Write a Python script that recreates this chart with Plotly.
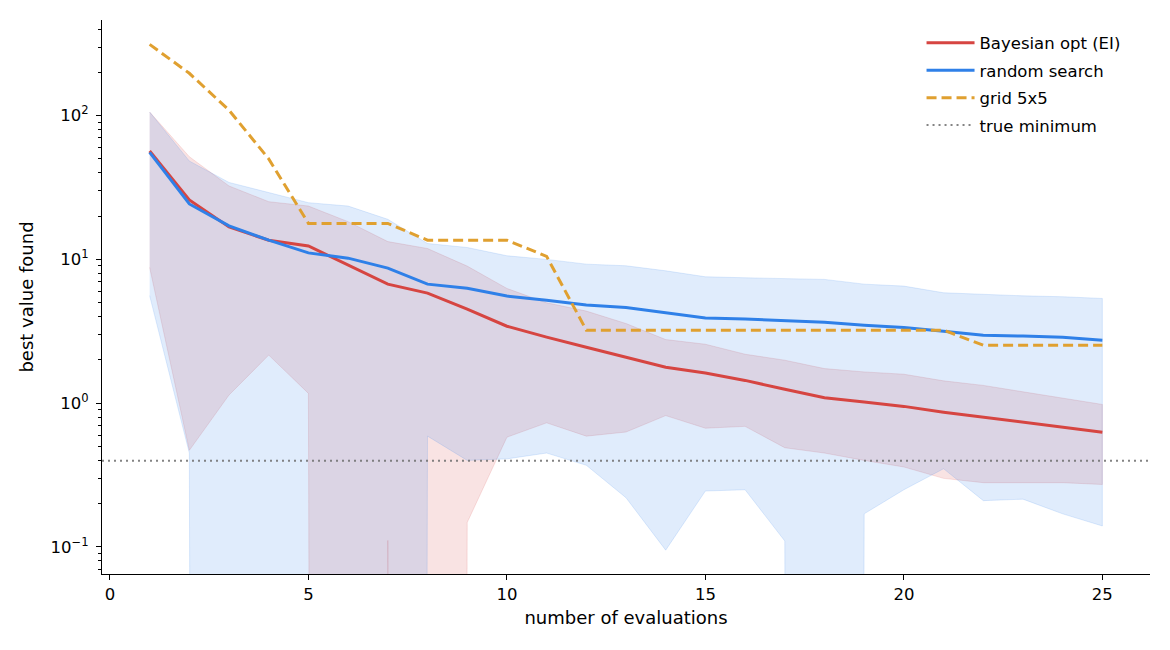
import plotly.graph_objects as go
import numpy as np

# ---------------- data ----------------
evals = list(range(1, 26))

bo_mean = [56.7, 25.9, 16.8, 13.6, 12.4, 9.1, 6.73, 5.83, 4.51, 3.43, 2.88, 2.45, 2.09,
           1.78, 1.62, 1.44, 1.25, 1.09, 1.02, 0.95, 0.865, 0.80, 0.736, 0.68, 0.628]
bo_upper = [106, 51.8, 32.4, 25.2, 23.5, 18.3, 13.3, 11.9, 8.98, 6.28, 4.99, 4.37, 3.58,
            2.77, 2.57, 2.19, 1.99, 1.74, 1.65, 1.59, 1.43, 1.33, 1.2, 1.08, 0.98]
# 0 = mean - std was non-positive (clipped on the log axis)
bo_lower = [8.8, 0.47, 1.14, 2.16, 1.17, 0, 0.111, 0, 0.148, 0.58, 0.73, 0.59, 0.63,
            0.82, 0.67, 0.69, 0.49, 0.45, 0.40, 0.36, 0.30, 0.28, 0.28, 0.28, 0.272]

rs_mean = [55.5, 24.3, 17.1, 13.6, 11.1, 10.2, 8.7, 6.73, 6.3, 5.56, 5.2, 4.81, 4.63,
           4.25, 3.92, 3.85, 3.74, 3.65, 3.49, 3.36, 3.17, 2.97, 2.93, 2.87, 2.74]
rs_upper = [106, 48.3, 34.3, 29.1, 24.8, 23.5, 19.0, 12.9, 12.1, 10.6, 10.0, 9.27, 9.03,
            8.33, 7.57, 7.45, 7.37, 7.26, 6.73, 6.52, 5.86, 5.7, 5.58, 5.5, 5.35]
rs_lower = [5.6, 0.45, 0, 0, 0, 0, 0, 0.59, 0.40, 0.41, 0.45, 0.37, 0.22,
            0.095, 0.245, 0.25, 0.11, 0, 0.17, 0.25, 0.35, 0.21, 0.215, 0.17, 0.14]

grid_best = [313, 197, 109, 50, 17.8, 17.8, 17.8, 13.6, 13.6, 13.6, 10.5,
             3.22, 3.22, 3.22, 3.22, 3.22, 3.22, 3.22, 3.22, 3.22, 3.22,
             2.53, 2.53, 2.53, 2.53]

true_min = 0.397887

y_tick_vals = [0.1, 1, 10, 100]
y_tick_text = ["10<sup>\u22121</sup>", "10<sup>0</sup>", "10<sup>1</sup>", "10<sup>2</sup>"]
x_tick_vals = [0, 5, 10, 15, 20, 25]
x_range = [-0.2, 26.2]
y_range_log = [-1.188, 2.665]

RED = "#d64541"
BLUE = "#2f80e8"
ORANGE = "#e0a030"
FAM = "DejaVu Sans"

# ---------------- figure ----------------
def band(xs, lo, hi, rgb):
    lo_c = [v if v > 0 else 1e-100 for v in lo]  # mimic log-axis clipping
    return go.Scatter(
        x=list(xs) + list(xs)[::-1],
        y=list(hi) + lo_c[::-1],
        fill="toself",
        fillcolor=f"rgba({rgb},0.15)",
        line=dict(color=f"rgba({rgb},0.15)", width=1),
        mode="lines",
        hoverinfo="skip",
        showlegend=False,
    )

fig = go.Figure()
fig.add_trace(band(evals, bo_lower, bo_upper, "214,69,65"))
fig.add_trace(band(evals, rs_lower, rs_upper, "47,128,232"))

fig.add_trace(go.Scatter(x=evals, y=bo_mean, mode="lines", name="Bayesian opt (EI)",
                         line=dict(color=RED, width=3), legendgroup="a"))
fig.add_trace(go.Scatter(x=evals, y=rs_mean, mode="lines", name="random search",
                         line=dict(color=BLUE, width=3), legendgroup="b"))
fig.add_trace(go.Scatter(x=evals, y=grid_best, mode="lines", name="grid 5x5",
                         line=dict(color=ORANGE, width=3, dash="10px,5px"), legendgroup="c"))
fig.add_trace(go.Scatter(x=x_range, y=[true_min, true_min], mode="lines", name="true minimum",
                         line=dict(color="rgba(110,110,110,0.85)", width=2, dash="2px,4px"),
                         legendgroup="d"))

minor_vals = [m * 10.0 ** e for e in range(-2, 3) for m in range(2, 10)]

fig.update_layout(
    width=1170, height=650,
    margin=dict(l=102, r=20, t=20, b=76),
    plot_bgcolor="white", paper_bgcolor="white",
    font=dict(family=FAM, size=15, color="black"),
    showlegend=True,
    legend=dict(x=0.782, xanchor="left", y=0.99, yanchor="top",
                bgcolor="rgba(255,255,255,0)",
                font=dict(family=FAM, size=16.5, color="black"),
                itemwidth=48,
                traceorder="grouped", tracegroupgap=3),
    xaxis=dict(range=x_range, showgrid=False, zeroline=False,
               showline=True, linecolor="black", linewidth=1.2,
               ticks="outside", ticklen=5, tickwidth=1.2, tickcolor="black",
               tickmode="array", tickvals=x_tick_vals,
               tickfont=dict(size=16.5),
               title=dict(text="number of evaluations", standoff=8),
               mirror=False),
    yaxis=dict(type="log", range=y_range_log, showgrid=False, zeroline=False,
               showline=True, linecolor="black", linewidth=1.2,
               ticks="outside", ticklen=5, tickwidth=1.2, tickcolor="black",
               tickmode="array", tickvals=y_tick_vals, ticktext=y_tick_text,
               tickfont=dict(size=16.5), ticklabelstandoff=4,
               minor=dict(tickmode="array", tickvals=minor_vals, ticks="outside",
                          ticklen=3, tickwidth=0.8, tickcolor="black", showgrid=False),
               title=dict(text="best value found", standoff=12)),
)

fig.write_html("out.html")
